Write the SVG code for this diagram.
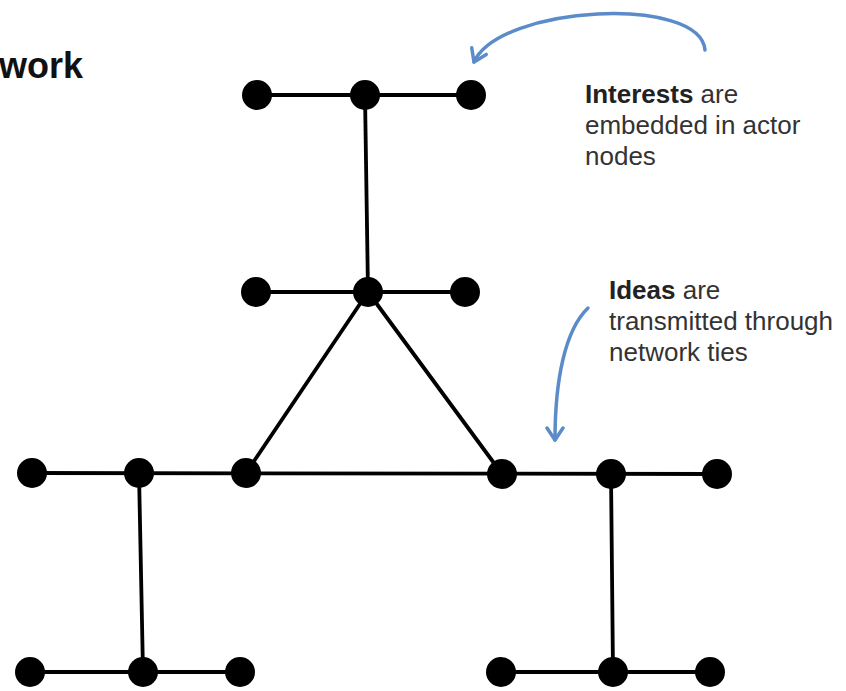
<svg xmlns="http://www.w3.org/2000/svg" width="846" height="691" viewBox="0 0 846 691">
<style>
.edge{stroke:#000;stroke-width:3.8;fill:none;stroke-linecap:round}
.node{fill:#000}
.note{font-family:"Liberation Sans",Arial,sans-serif;font-size:26px;fill:#333}
.note .b{font-weight:bold;fill:#222}
.title{font-family:"Liberation Sans",Arial,sans-serif;font-size:36px;font-weight:bold;fill:#111}
.callout{stroke:#5b8bc8;stroke-width:3.5;fill:none;stroke-linecap:round}
</style>
<defs>
<marker id="chev" viewBox="-14 -10 16 20" markerWidth="16" markerHeight="20" refX="0" refY="0" orient="auto" markerUnits="userSpaceOnUse">
<path d="M-12,-8 L0,0 L-12,8" fill="none" stroke="#5b8bc8" stroke-width="3.5" stroke-linecap="round" stroke-linejoin="round"/>
</marker>
</defs>
<rect width="846" height="691" fill="#fff"/>
<text class="title" x="-1" y="78">work</text>
<g id="connectors">
<line class="edge" x1="257" y1="95" x2="471" y2="95"/>
<line class="edge" x1="365" y1="95" x2="368" y2="292"/>
<line class="edge" x1="256" y1="292" x2="465" y2="292"/>
<line class="edge" x1="368" y1="292" x2="246" y2="473"/>
<line class="edge" x1="368" y1="292" x2="502" y2="474"/>
<line class="edge" x1="32" y1="473" x2="717" y2="474"/>
<line class="edge" x1="139" y1="473" x2="143" y2="672"/>
<line class="edge" x1="611" y1="474" x2="613" y2="672"/>
<line class="edge" x1="30" y1="672" x2="240" y2="672"/>
<line class="edge" x1="501" y1="672" x2="710" y2="672"/>
<path class="callout" d="M705,50 C700,-5 500,5 474,62" marker-end="url(#chev)"/>
<path class="callout" d="M588,308 C565,330 555,380 555,440" marker-end="url(#chev)"/>
</g>
<g id="n1"><circle class="node" cx="257" cy="95" r="15"/></g>
<g id="n2"><circle class="node" cx="365" cy="95" r="15"/></g>
<g id="n3"><circle class="node" cx="471" cy="95" r="15"/></g>
<g id="n4"><circle class="node" cx="256" cy="292" r="15"/></g>
<g id="n5"><circle class="node" cx="368" cy="292" r="15"/></g>
<g id="n6"><circle class="node" cx="465" cy="292" r="15"/></g>
<g id="n7"><circle class="node" cx="32" cy="473" r="15"/></g>
<g id="n8"><circle class="node" cx="139" cy="473" r="15"/></g>
<g id="n9"><circle class="node" cx="246" cy="473" r="15"/></g>
<g id="n10"><circle class="node" cx="502" cy="474" r="15"/></g>
<g id="n11"><circle class="node" cx="611" cy="474" r="15"/></g>
<g id="n12"><circle class="node" cx="717" cy="474" r="15"/></g>
<g id="n13"><circle class="node" cx="30" cy="672" r="15"/></g>
<g id="n14"><circle class="node" cx="143" cy="672" r="15"/></g>
<g id="n15"><circle class="node" cx="240" cy="672" r="15"/></g>
<g id="n16"><circle class="node" cx="501" cy="672" r="15"/></g>
<g id="n17"><circle class="node" cx="613" cy="672" r="15"/></g>
<g id="n18"><circle class="node" cx="710" cy="672" r="15"/></g>
<g id="note-interests">
<text class="note" x="585" y="103"><tspan class="b">Interests</tspan> are</text>
<text class="note" x="585" y="134">embedded in actor</text>
<text class="note" x="585" y="165">nodes</text>
</g>
<g id="note-ideas">
<text class="note" x="609" y="299"><tspan class="b">Ideas</tspan> are</text>
<text class="note" x="609" y="330">transmitted through</text>
<text class="note" x="609" y="361">network ties</text>
</g>
</svg>
